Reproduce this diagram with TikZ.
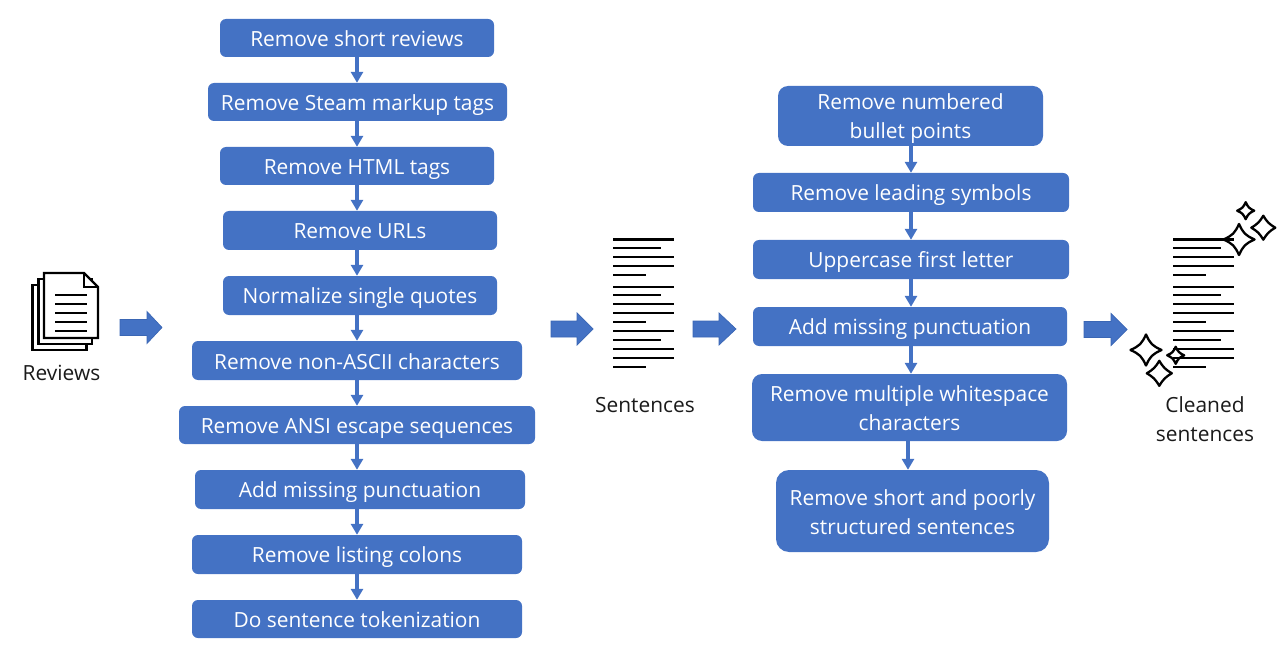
\documentclass[tikz,border=0pt]{standalone}
\usepackage{fontspec}
\setmainfont{Open Sans}
\usetikzlibrary{arrows.meta}
\definecolor{boxblue}{HTML}{4472C4}
\definecolor{edgeblue}{HTML}{3A66B4}
\definecolor{inkdark}{HTML}{1A1A1A}
\newcommand{\st}{\rule[-5pt]{0pt}{27pt}}
\tikzset{
  flowbox/.style={draw=none,fill=boxblue,rounded corners=6pt,text=white,inner sep=0pt,align=center,
    font=\fontsize{20.9}{29}\selectfont},
  flowarrow/.style={draw=boxblue,line width=3.2pt,-{Triangle[length=11pt,width=12pt]}},
  bigarrow/.style={fill=boxblue,draw=edgeblue,line width=.7pt},
  caption/.style={text=inkdark,inner sep=0pt,align=center,font=\fontsize{20.9}{29}\selectfont},
  textline/.style={draw=black,line width=2.2pt},
  docpage/.style={draw=black,line width=2.4pt,fill=white,line join=miter},
  sparkle/.pic={\draw[black,line width=2.3pt,line join=round]
    (0,-1) .. controls (.28,-.4) and (.4,-.28) .. (1,0)
    .. controls (.4,.28) and (.28,.4) .. (0,1)
    .. controls (-.28,.4) and (-.4,.28) .. (-1,0)
    .. controls (-.4,-.28) and (-.28,-.4) .. (0,-1) -- cycle;},
  fatsparkle/.pic={\draw[black,line width=2.3pt,line join=round]
    (0,-1) .. controls (.33,-.46) and (.46,-.33) .. (1,0)
    .. controls (.46,.33) and (.33,.46) .. (0,1)
    .. controls (-.33,.46) and (-.46,.33) .. (-1,0)
    .. controls (-.46,-.33) and (-.33,-.46) .. (0,-1) -- cycle;},
}
\newcommand{\textblock}[1]{%
  \foreach \y/\w in {239.5/61,248.3/48,257.3/61,266.3/61,275.3/33,286.7/61,295.3/48,304.3/61,313.3/61,322.3/33,331.3/61,340.3/48,349.3/61,358.3/61,367.3/33}
    \draw[textline] (#1,\y) -- ++(\w,0);}
\newcommand{\blockarrow}[4]{% x0, xhead, xtip, ycentre
  \draw[bigarrow] (#1,#4-8) -- (#2,#4-8) -- (#2,#4-16) -- (#3,#4) -- (#2,#4+16) -- (#2,#4+8) -- (#1,#4+8) -- cycle;}
\begin{document}
\begin{tikzpicture}[x=1pt,y=-1pt]
\useasboundingbox (0,0) rectangle (1280,655);
% left column
\node[flowbox,minimum width=274pt,minimum height=38pt] (a1) at (357,38) {\st Remove short reviews};
\node[flowbox,minimum width=299pt,minimum height=38pt] (a2) at (357.5,102) {\st Remove Steam markup tags};
\node[flowbox,minimum width=274pt,minimum height=38pt] (a3) at (357,166) {\st Remove HTML tags};
\node[flowbox,minimum width=274pt,minimum height=39pt] (a4) at (360,230.5) {\st Remove URLs};
\node[flowbox,minimum width=274pt,minimum height=39pt] (a5) at (360,295.5) {\st Normalize single quotes};
\node[flowbox,minimum width=330pt,minimum height=39pt] (a6) at (357,360.5) {\st Remove non-ASCII characters};
\node[flowbox,minimum width=356pt,minimum height=38pt] (a7) at (357,425) {\st Remove ANSI escape sequences};
\node[flowbox,minimum width=330pt,minimum height=39pt] (a8) at (360,489.5) {\st Add missing punctuation};
\node[flowbox,minimum width=330pt,minimum height=39pt] (a9) at (357,554.5) {\st Remove listing colons};
\node[flowbox,minimum width=330pt,minimum height=38pt] (a10) at (357,619) {\st Do sentence tokenization};
\coordinate (ax) at (357,0);
\foreach \p/\q in {a1/a2,a2/a3,a3/a4,a4/a5,a5/a6,a6/a7,a7/a8,a8/a9,a9/a10}
  \draw[flowarrow] (\p.south -| ax) -- (\q.north -| ax);
% right column
\node[flowbox,minimum width=265pt,minimum height=60pt,rounded corners=10pt] (b1) at (910.5,116) {\st Remove numbered\\\st bullet points};
\node[flowbox,minimum width=316pt,minimum height=39pt] (b2) at (911,192.5) {\st Remove leading symbols};
\node[flowbox,minimum width=316pt,minimum height=39pt] (b3) at (911,259.5) {\st Uppercase first letter};
\node[flowbox,minimum width=314pt,minimum height=39pt] (b4) at (910,326.5) {\st Add missing punctuation};
\node[flowbox,minimum width=315pt,minimum height=67pt,rounded corners=10pt] (b5) at (909.5,407.5) {\st Remove multiple whitespace\\\st characters};
\node[flowbox,minimum width=273pt,minimum height=82pt,rounded corners=13pt] (b6) at (912.5,511) {\st Remove short and poorly\\\st structured sentences};
\coordinate (bx) at (911,0);
\coordinate (cx) at (908,0);
\foreach \p/\q in {b1/b2,b2/b3,b3/b4,b4/b5}
  \draw[flowarrow] (\p.south -| bx) -- (\q.north -| bx);
\draw[flowarrow] (b5.south -| cx) -- (b6.north -| cx);
% document stack
\draw[docpage] (32.5,285) rectangle (86.5,350);
\draw[docpage] (38.5,279) rectangle (92,344);
\draw[docpage] (44,273) -- (84,273) -- (98,287) -- (98,338) -- (44,338) -- cycle;
\draw[docpage,fill=none] (84,273) -- (84,287) -- (98,287);
\foreach \y in {295,304,313,322,331}
  \draw[textline] (55,\y) -- (87,\y);
% block arrows
\blockarrow{120}{147}{162}{327.5}
\blockarrow{551}{577}{593}{329}
\blockarrow{693}{719}{736}{329}
\blockarrow{1084}{1111}{1127}{329.5}
% text blocks
\textblock{613}
\textblock{1173}
% sparkles
\pic[scale=15.5] at (1239,239.5) {sparkle};
\pic[scale=8.5] at (1245.7,210.7) {sparkle};
\pic[scale=12] at (1263.3,227.7) {fatsparkle};
\pic[scale=15.5] at (1146,350) {sparkle};
\pic[scale=8.5] at (1175.7,355.3) {sparkle};
\pic[scale=12.5] at (1159.3,373.3) {fatsparkle};
% captions
\node[caption] (reviews) at (61.5,372) {\st Reviews};
\node[caption] (sentences) at (645,404) {\st Sentences};
\node[caption] (cleaned) at (1205,418.5) {\st Cleaned\\\st sentences};
\end{tikzpicture}
\end{document}
